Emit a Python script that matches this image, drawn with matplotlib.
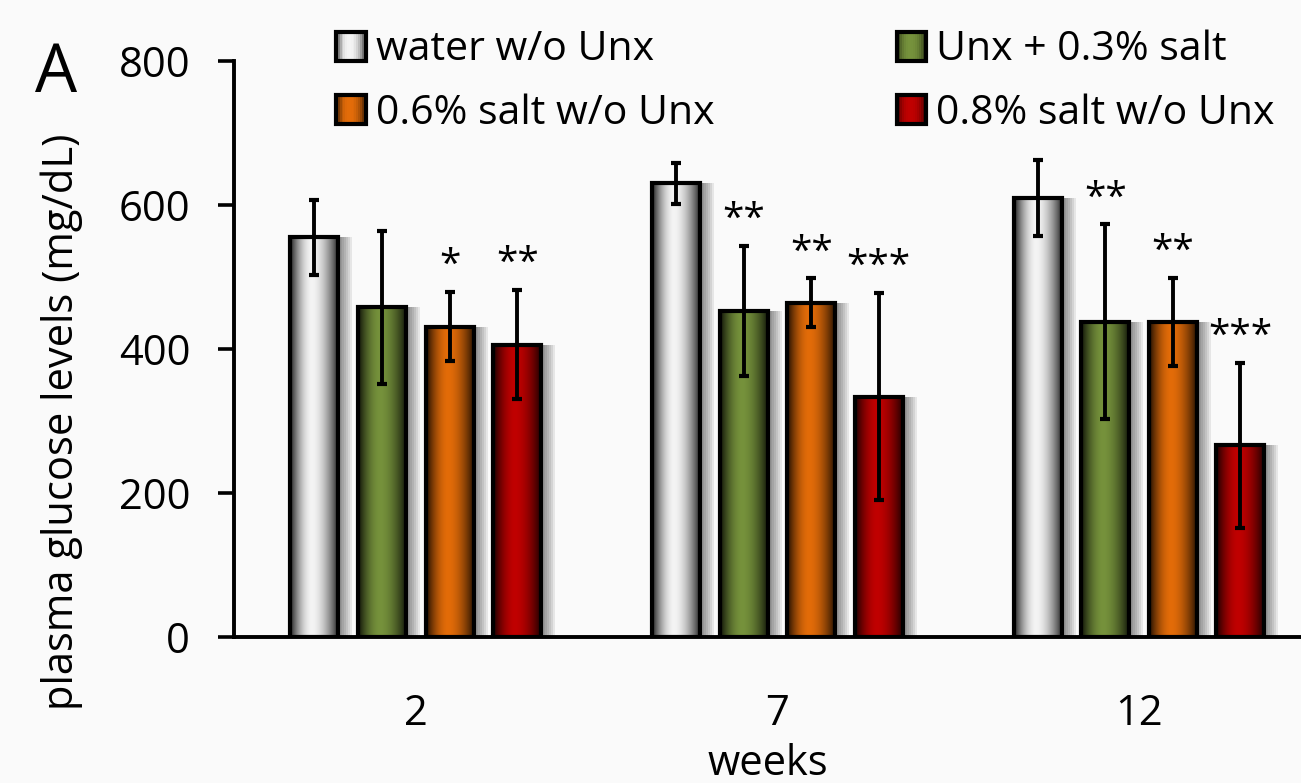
import numpy as np
import matplotlib
matplotlib.use('Agg')
import matplotlib.pyplot as plt
from matplotlib.patches import Rectangle
from matplotlib.legend_handler import HandlerBase
from matplotlib.transforms import ScaledTranslation

# Data (plasma glucose, mg/dL, mean +/- error)
weeks = ['2', '7', '12']
labels = ['water w/o Unx', 'Unx + 0.3% salt', '0.6% salt w/o Unx', '0.8% salt w/o Unx']
water = [555, 630, 610]
water_err = [52, 28, 53]
unx_salt03 = [458, 453, 438]
unx_salt03_err = [106, 90, 135]
salt06 = [431, 464, 438]
salt06_err = [48, 34, 61]
salt08 = [406, 334, 266]
salt08_err = [76, 144, 115]
stars_water = ['', '', '']
stars_unx = ['', '**', '**']
stars_06 = ['*', '**', '**']
stars_08 = ['**', '***', '***']
colors = ['#f4f4f4', '#76923c', '#e36c09', '#c00000']

BG = '#fafafa'
plt.rcParams['font.family'] = ['Open Sans', 'DejaVu Sans']


def gradient(color, n=96, lo=0.12, p=1.8):
    # horizontal shading: dark edges, light just left of centre
    t = np.linspace(0, 1, n)
    c = 0.45
    u = np.where(t < c, (c - t) / c, (t - c) / (1 - c))
    f = lo + (1 - lo) * (1 - u ** p)
    rgb = np.array(matplotlib.colors.to_rgb(color))
    return (f[:, None] * rgb[None, :])[None, :, :]


class GradientHandler(HandlerBase):
    # legend key drawn as a shaded square with a thick black frame
    def create_artists(self, legend, orig_handle, xdescent, ydescent,
                       width, height, fontsize, trans):
        cols = gradient(orig_handle.get_facecolor(), n=16, lo=0.3, p=2.5)[0]
        n = len(cols)
        arts = []
        for j, c in enumerate(cols):
            arts.append(Rectangle((-xdescent + width * j / n, -ydescent), width / n * 1.05, height,
                                  facecolor=c, linewidth=0, transform=trans))
        arts.append(Rectangle((-xdescent, -ydescent), width, height, facecolor='none',
                              edgecolor='black', linewidth=3, transform=trans))
        return arts


fig = plt.figure(figsize=(13.01, 7.83), dpi=100, facecolor=BG)
ax = fig.add_axes([234 / 1301, 146 / 783, 1 - 234 / 1301, 576 / 783])
ax.set_facecolor(BG)

x = np.arange(len(weeks))
step = 0.187
width = 0.133
series = [(water, water_err, stars_water),
          (unx_salt03, unx_salt03_err, stars_unx),
          (salt06, salt06_err, stars_06),
          (salt08, salt08_err, stars_08)]

for i, (vals, errs, stars) in enumerate(series):
    pos = x + (i - 1.5) * step

    # soft drop shadow to the right
    for k in range(1, 8):
        sh = ax.bar(pos, vals, width, color='black', alpha=0.08, linewidth=0, zorder=1)
        off = ScaledTranslation(k * 2.0 / 100, 0, fig.dpi_scale_trans)
        for p in sh:
            p.set_transform(ax.transData + off)

    bars = ax.bar(pos, vals, width, facecolor='none', edgecolor='black',
                  linewidth=3.0, zorder=3)
    for b in bars:
        x0, y0 = b.get_x(), b.get_y()
        im = ax.imshow(gradient(colors[i]), extent=[x0, x0 + b.get_width(), y0, y0 + b.get_height()],
                       aspect='auto', interpolation='bilinear', zorder=2)
        im.set_clip_path(b)

    ax.errorbar(pos, vals, yerr=errs, fmt='none', ecolor='black', elinewidth=2.8,
                capsize=3.6, capthick=3, zorder=4)

    for p, v, e, s in zip(pos, vals, errs, stars):
        if s:
            ax.annotate(s, (p, v + e), xytext=(0, 5), textcoords='offset points',
                        ha='center', va='bottom', fontsize=28)

ax.set_xlim(-0.503, 2.448)
ax.set_ylim(0, 800)
ax.set_yticks([0, 200, 400, 600, 800])
ax.set_xticks(x)
ax.set_xticklabels(weeks)

for s in ['top', 'right']:
    ax.spines[s].set_visible(False)
ax.spines['left'].set_linewidth(2.8)
ax.spines['bottom'].set_linewidth(2.8)
ax.tick_params(axis='y', length=11.5, width=2.6, pad=20, labelsize=30)
ax.tick_params(axis='x', length=0, pad=40, labelsize=30)

ax.set_xlabel('weeks', fontsize=30, labelpad=6)
fig.text(62 / 1301, 1 - 422 / 783, 'plasma glucose levels (mg/dL)', rotation=90,
         ha='center', va='center', fontsize=30)
fig.text(35 / 1301, 1 - 92 / 783, 'A', fontsize=48, ha='left', va='baseline')

handles = [Rectangle((0, 0), 1, 1, facecolor=colors[j]) for j in [0, 2, 1, 3]]
names = [labels[j] for j in [0, 2, 1, 3]]
fig.legend(handles, names, loc='upper left', bbox_to_anchor=(336 / 1301, 1 - 30 / 783),
           ncol=2, frameon=False, fontsize=29.5, handlelength=0.72, handleheight=0.72,
           handletextpad=0.25, columnspacing=4.45, labelspacing=0.55, borderpad=0,
           borderaxespad=0, handler_map={Rectangle: GradientHandler()})

plt.savefig('out.png', dpi=100, facecolor=BG)
